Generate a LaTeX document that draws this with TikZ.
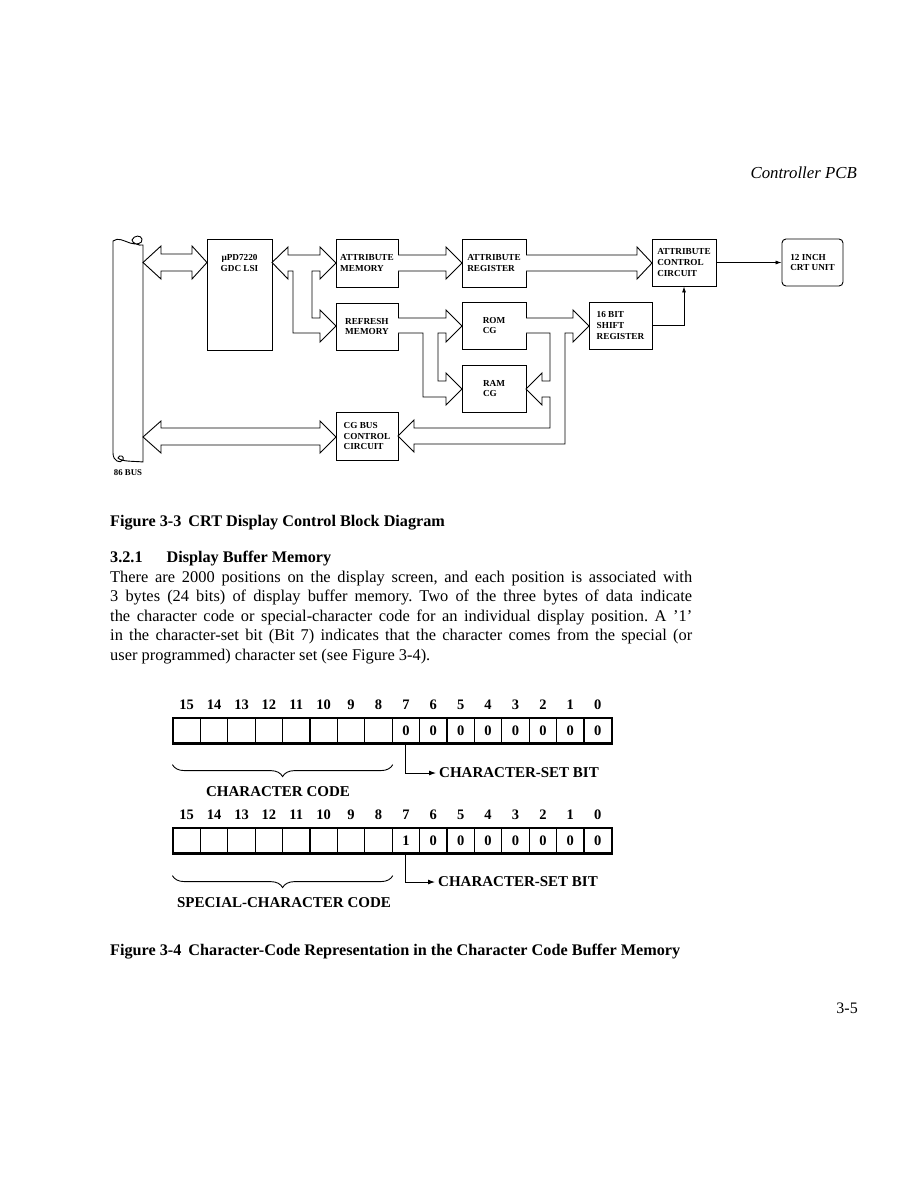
\documentclass[tikz,border=0pt]{standalone}
\usepackage{fontspec}
\setmainfont{Liberation Serif}
\usetikzlibrary{arrows.meta,decorations.pathreplacing}
\frenchspacing

\tikzset{
  blk/.style={draw, line width=0.9pt, align=left, inner sep=0pt,
    font=\bfseries\fontsize{9.2}{10.6}\selectfont},
  fat/.style={draw, fill=white, line width=0.9pt},
  thinarr/.style={line width=0.8pt, -{Latex[length=6pt,width=4pt]}},
  bitcell/.style={draw, line width=1.2pt, minimum width=27.4pt, minimum height=25pt,
    inner sep=0pt, font=\bfseries\fontsize{14.5}{14.5}\selectfont},
  bitnum/.style={font=\bfseries\fontsize{14.5}{14.5}\selectfont},
  biglab/.style={font=\bfseries\fontsize{15}{15}\selectfont},
  capt/.style={anchor=base west, inner sep=0pt, font=\bfseries\fontsize{16.2}{16.2}\selectfont},
}

\begin{document}
\begin{tikzpicture}[x=1pt, y=-1pt]
  \path[fill=white] (0,0) rectangle (918,1188);
  \node[anchor=base east, inner sep=0pt, font=\itshape\fontsize{16.8}{16.8}\selectfont] (hdr) at (857,178) {Controller PCB};

  % 86 bus cable
  \draw[line width=0.9pt] (113,453) -- (113,241) .. controls (118,237) and (124,241) .. (130,243)
    .. controls (136,245) and (143,244) .. (142,239) .. controls (141,235) and (134,235) .. (132,240)
    .. controls (132,243) and (139,246) .. (143,245) -- (143,462)
    .. controls (134,461) and (122,462) .. (118,458) .. controls (119,454) and (125,456) .. (123,460)
    .. controls (120,464) and (113,461) .. (113,453);
  \node[font=\bfseries\fontsize{8.8}{8.8}\selectfont] (buslbl) at (128,473) {86 BUS};

  % blocks
  \node[blk, minimum width=65pt, minimum height=111pt] (gdc) at (239.5,294.5) {};
  \node[font=\bfseries\fontsize{9.2}{10.6}\selectfont, align=center] (gdclbl) at (239.5,263) {µPD7220\\GDC LSI};
  \node[blk, minimum width=62pt, minimum height=48pt] (amem) at (367,263) {ATTRIBUTE\\MEMORY};
  \node[blk, minimum width=62pt, minimum height=47pt] (rmem) at (367,326.5) {REFRESH\\MEMORY};
  \node[blk, minimum width=62pt, minimum height=48pt] (cgbus) at (367,436) {CG BUS\\CONTROL\\CIRCUIT};
  \node[blk, minimum width=64pt, minimum height=48pt] (areg) at (494,263) {ATTRIBUTE\\REGISTER};
  \node[blk, minimum width=64pt, minimum height=47pt] (rom) at (494,325.5) {ROM\\CG};
  \node[blk, minimum width=64pt, minimum height=47pt] (ram) at (494,388.5) {RAM\\CG};
  \node[blk, minimum width=64pt, minimum height=47pt] (acc) at (684,262.5) {ATTRIBUTE\\CONTROL\\CIRCUIT};
  \node[blk, minimum width=63pt, minimum height=47pt] (shift) at (620.5,325.5) {16 BIT\\SHIFT\\REGISTER};
  \node[blk, minimum width=61pt, minimum height=47pt, rounded corners=4pt] (crt) at (812.5,262.5) {12 INCH\\CRT UNIT};

  % wide bus arrows
  \path[fat] (143,262.5) -- (161,246) -- (161,254) -- (192,254) -- (192,246) -- (207,262.5)
    -- (192,279) -- (192,271) -- (161,271) -- (161,279) -- cycle;
  \path[fat] (272,262.5) -- (288,247) -- (288,255) -- (320,255) -- (320,247) -- (336,263)
    -- (320,279) -- (320,271) -- (312,271) -- (312,318) -- (320,318) -- (320,310) -- (336,326)
    -- (320,342) -- (320,333) -- (293,333) -- (293,271) -- (288,271) -- (288,279) -- cycle;
  \path[fat] (398,255) -- (446,255) -- (446,247) -- (462,263) -- (446,279) -- (446,271) -- (398,271);
  \path[fat] (526,255) -- (637,255) -- (637,247) -- (652,263) -- (637,279) -- (637,271) -- (526,271);
  \path[fat] (398,318) -- (446,318) -- (446,310) -- (462,326) -- (446,342) -- (446,333) -- (438,333)
    -- (438,381) -- (446,381) -- (446,373) -- (462,389) -- (446,405) -- (446,397) -- (423,397)
    -- (423,333) -- (398,333);
  \path[fat] (526,318) -- (573,318) -- (573,310) -- (589,326) -- (573,342) -- (573,333) -- (565,333)
    -- (565,444) -- (414,444) -- (414,452) -- (398,436) -- (414,420) -- (414,428) -- (550,428)
    -- (550,397) -- (542,397) -- (542,405) -- (526,389) -- (542,373) -- (542,381) -- (550,381)
    -- (550,333) -- (526,333);
  \path[fat] (143,437) -- (161,421) -- (161,428) -- (320,428) -- (320,421) -- (336,437)
    -- (320,453) -- (320,445) -- (161,445) -- (161,453) -- cycle;

  \draw[thinarr] (acc) -- (crt);
  \draw[thinarr] (shift.east) -| (acc.south);

  \node[capt] (fig33) at (110,526) {Figure 3-3\hspace{7pt}CRT Display Control Block Diagram};
  \node[capt] (sec) at (110,562) {3.2.1\hspace{24pt}Display Buffer Memory};
  \node[anchor=north west, inner sep=0pt, text width=582pt, align=justify,
    font=\fontsize{16.4}{19.4}\selectfont] (para) at (110,571) {There are 2000 positions on the display screen, and each position is associated with\linebreak
    3 bytes (24 bits) of display buffer memory. Two of the three bytes of data indicate\linebreak
    the character code or special-character code for an individual display position. A ’1’\linebreak
    in the character-set bit (Bit 7) indicates that the character comes from the special (or\linebreak
    user programmed) character set (see Figure 3-4).};

  % bit layouts
  \foreach \b in {0,...,15} {
    \pgfmathsetmacro\cx{186.7+27.4*(15-\b)}
    \node[bitnum] (na\b) at (\cx,705) {\b};
    \node[bitcell] (a\b) at (\cx,730.5) {\ifnum\b<8 0\fi};
    \node[bitnum] (nb\b) at (\cx,815) {\b};
    \node[bitcell] (b\b) at (\cx,840.5) {\ifnum\b=7 1\else\ifnum\b<8 0\fi\fi};
  }
  \draw[line width=1.8pt] (a15.north west) rectangle (a0.south east);
  \draw[line width=1.8pt] (b15.north west) rectangle (b0.south east);

  \draw[line width=0.9pt, decorate, decoration={brace, mirror, amplitude=12pt}]
    ([yshift=-21pt]a15.south west) -- ([yshift=-21pt]a8.south east);
  \node[biglab] (cc) at (278,792) {CHARACTER CODE};
  \node[biglab, anchor=west, inner sep=3pt] (csa) at (436,773) {CHARACTER-SET BIT};
  \draw[line width=0.9pt, -{Latex[length=7pt,width=5pt]}] (a7.south) |- (csa.west);

  \draw[line width=0.9pt, decorate, decoration={brace, mirror, amplitude=12pt}]
    ([yshift=-22pt]b15.south west) -- ([yshift=-22pt]b8.south east);
  \node[biglab] (scc) at (284,903) {SPECIAL-CHARACTER CODE};
  \node[biglab, anchor=west, inner sep=3pt] (csb) at (435,882) {CHARACTER-SET BIT};
  \draw[line width=0.9pt, -{Latex[length=7pt,width=5pt]}] (b7.south) |- (csb.west);

  \node[capt] (fig34) at (110,955) {Figure 3-4\hspace{7pt}Character-Code Representation in the Character Code Buffer Memory};
  \node[anchor=base east, inner sep=0pt, font=\fontsize{16}{16}\selectfont] (pg) at (858,1013) {3-5};
\end{tikzpicture}
\end{document}
